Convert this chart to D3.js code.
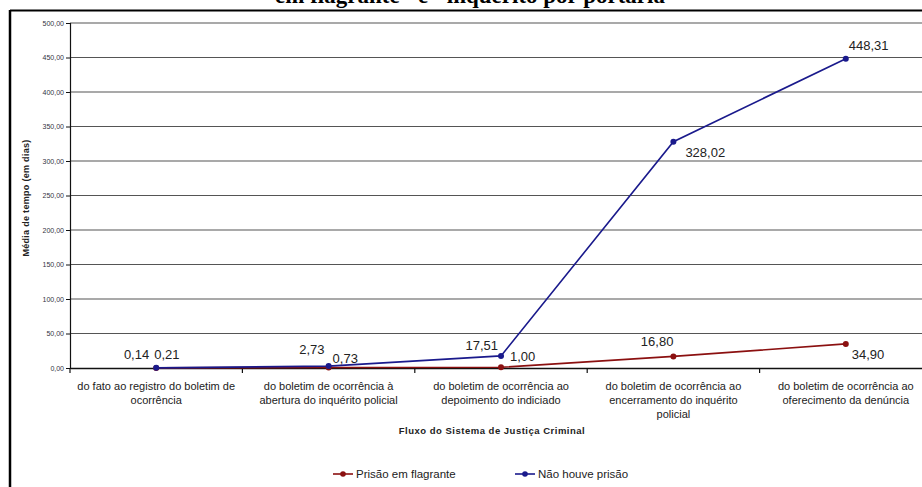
<!DOCTYPE html>
<html><head><meta charset="utf-8">
<script src="https://cdn.jsdelivr.net/npm/d3@7"></script>
<style>body{margin:0;background:#fff}svg{display:block}</style>
</head><body>
<svg id="c" width="922" height="487"></svg>
<script>
const categories = [
  ["do fato ao registro do boletim de", "ocorrência"],
  ["do boletim de ocorrência à", "abertura do inquérito policial"],
  ["do boletim de ocorrência ao", "depoimento do indiciado"],
  ["do boletim de ocorrência ao", "encerramento do inquérito", "policial"],
  ["do boletim de ocorrência ao", "oferecimento da denúncia"]
];
const flagrante = [0.14, 0.73, 1.00, 16.80, 34.90];
const naoHouve = [0.21, 2.73, 17.51, 328.02, 448.31];
const yTicks = [0, 50, 100, 150, 200, 250, 300, 350, 400, 450, 500];
const seriesNames = ["Prisão em flagrante", "Não houve prisão"];
const titleText = "em flagrante\" e \"inquérito por portaria";
const xTitle = "Fluxo do Sistema de Justiça Criminal";
const yTitle = "Média de tempo (em dias)";

// label placement (dx, dy, anchor) per point
const labelPos = [
  [[-7,-9,"end"],[4,-4,"start"],[9,-6,"start"],[0,-10,"end"],[6,15,"start"]],
  [[-2,-9,"start"],[-4,-12,"end"],[-3,-6,"end"],[12,15,"start"],[3,-9,"start"]]
];

const svg = d3.select("#c");
const mLeft = 70, mTop = 23, mBottom = 368, mRight = 932;
const x = d3.scaleBand().domain(d3.range(categories.length)).range([mLeft, mRight]);
const y = d3.scaleLinear().domain([0, 500]).range([mBottom, mTop]);
const fmt = v => d3.format(".2f")(v).replace(".", ",");
const sans = "Liberation Sans, Arial, sans-serif";

// title (clipped at top, as in the source)
svg.append("text").attr("x", 470).attr("y", 3).attr("text-anchor", "middle")
  .attr("font-family", "Liberation Serif, Times New Roman, serif").attr("font-weight", "bold")
  .attr("font-size", 23).attr("fill", "#000").text(titleText);

// frame
svg.append("line").attr("x1", 10).attr("x2", 922).attr("y1", 10.5).attr("y2", 10.5).attr("stroke", "#000").attr("stroke-width", 2);
svg.append("line").attr("x1", 10).attr("x2", 10).attr("y1", 10).attr("y2", 487).attr("stroke", "#000").attr("stroke-width", 2.5);

// gridlines
svg.append("g").selectAll("line").data(yTicks.filter(d => d > 0)).join("line")
  .attr("x1", mLeft).attr("x2", mRight).attr("y1", d => y(d)).attr("y2", d => y(d))
  .attr("stroke", "#555").attr("stroke-width", 1.2);

// y axis
const ya = svg.append("g").attr("transform", `translate(${mLeft},0)`)
  .call(d3.axisLeft(y).tickValues(yTicks).tickSize(4).tickPadding(2).tickFormat(fmt));
ya.select(".domain").attr("stroke", "#111").attr("stroke-width", 1.2);
ya.selectAll(".tick line").attr("stroke", "#111");
ya.selectAll("text").attr("font-family", sans).attr("font-size", 7).attr("fill", "#334");

// x axis
const xa = svg.append("g").attr("transform", `translate(0,${mBottom})`)
  .call(d3.axisBottom(x).tickSize(0).tickFormat(""));
xa.select(".domain").attr("stroke", "#111").attr("stroke-width", 1.5);
xa.selectAll(".tick").remove();
svg.append("g").selectAll("line").data(d3.range(categories.length)).join("line")
  .attr("x1", d => x(d)).attr("x2", d => x(d)).attr("y1", mBottom).attr("y2", mBottom + 5)
  .attr("stroke", "#111").attr("stroke-width", 1.2);

// category labels
const cl = svg.append("g").selectAll("text").data(categories).join("text")
  .attr("text-anchor", "middle").attr("font-family", sans)
  .attr("font-size", 11).attr("fill", "#222");
cl.each(function(d, i) {
  d3.select(this).selectAll("tspan").data(d).join("tspan")
    .attr("x", x(i) + x.bandwidth() / 2).attr("y", (t, j) => 390 + j * 14).text(t => t);
});

// axis titles
svg.append("text").attr("x", 492).attr("y", 434).attr("text-anchor", "middle")
  .attr("font-family", sans).attr("font-weight", "bold").attr("letter-spacing", 0.5)
  .attr("font-size", 9.5).attr("fill", "#222").text(xTitle);
svg.append("text").attr("transform", "translate(29,198) rotate(-90)").attr("text-anchor", "middle")
  .attr("font-family", sans).attr("font-weight", "bold").attr("letter-spacing", 0.3)
  .attr("font-size", 9).attr("fill", "#222").text(yTitle);

// series
const colors = ["#8b1010", "#1a1a8c"];
const series = [flagrante, naoHouve];
const line = d3.line().x((d, i) => x(i) + x.bandwidth() / 2).y(d => y(d));
series.forEach((s, k) => {
  svg.append("path").datum(s).attr("d", line).attr("fill", "none")
    .attr("stroke", colors[k]).attr("stroke-width", 1.6);
});
series.forEach((s, k) => {
  svg.append("g").selectAll("circle").data(s).join("circle")
    .attr("cx", (d, i) => x(i) + x.bandwidth() / 2).attr("cy", d => y(d)).attr("r", 3)
    .attr("fill", colors[k]);
  svg.append("g").selectAll("text").data(s).join("text")
    .attr("x", (d, i) => x(i) + x.bandwidth() / 2 + labelPos[k][i][0])
    .attr("y", (d, i) => y(d) + labelPos[k][i][1])
    .attr("text-anchor", (d, i) => labelPos[k][i][2])
    .attr("font-family", sans).attr("font-size", 13)
    .attr("fill", "#222").text(fmt);
});

// legend
const lg = [[333, 0], [515, 1]];
lg.forEach(([lx, k]) => {
  svg.append("line").attr("x1", lx).attr("x2", lx + 20).attr("y1", 474).attr("y2", 474)
    .attr("stroke", colors[k]).attr("stroke-width", 1.6);
  svg.append("circle").attr("cx", lx + 10).attr("cy", 474).attr("r", 2.8).attr("fill", colors[k]);
  svg.append("text").attr("x", lx + 23).attr("y", 478).attr("font-family", sans)
    .attr("font-size", 11.5).attr("fill", "#222").text(seriesNames[k]);
});
</script>
</body></html>
